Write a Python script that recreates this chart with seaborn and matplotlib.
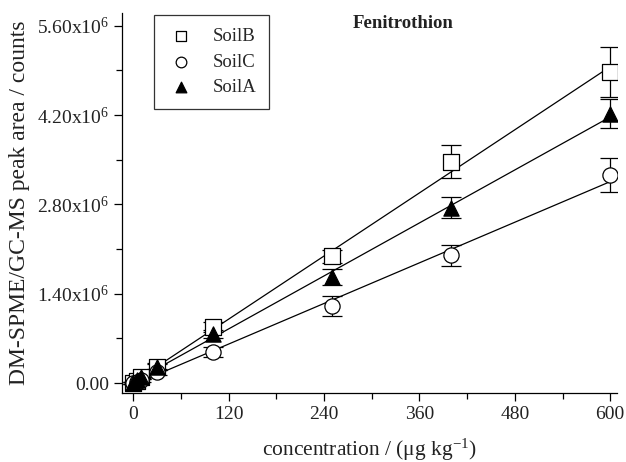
import numpy as np
import pandas as pd
import matplotlib
matplotlib.use("Agg")
import matplotlib.pyplot as plt
import seaborn as sns
from matplotlib.ticker import MultipleLocator, FixedLocator

conc = [0, 5, 10, 30, 100, 250, 400, 600]
soilB = [0.0, 0.04e6, 0.09e6, 0.25e6, 0.88e6, 1.99e6, 3.47e6, 4.88e6]
soilB_err = [0.02e6, 0.03e6, 0.03e6, 0.05e6, 0.08e6, 0.10e6, 0.26e6, 0.39e6]
soilC = [0.0, 0.02e6, 0.05e6, 0.17e6, 0.49e6, 1.21e6, 2.00e6, 3.26e6]
soilC_err = [0.02e6, 0.03e6, 0.03e6, 0.05e6, 0.08e6, 0.16e6, 0.17e6, 0.27e6]
soilA = [0.0, 0.05e6, 0.09e6, 0.26e6, 0.77e6, 1.66e6, 2.75e6, 4.22e6]
soilA_err = [0.02e6, 0.03e6, 0.03e6, 0.05e6, 0.07e6, 0.13e6, 0.17e6, 0.23e6]
series_names = ["SoilB", "SoilC", "SoilA"]
x_ticks = [0, 120, 240, 360, 480, 600]
y_ticks = [0.0, 1.40e6, 2.80e6, 4.20e6, 5.60e6]
y_tick_labels = ["0.00", r"1.40x10$^{6}$", r"2.80x10$^{6}$", r"4.20x10$^{6}$", r"5.60x10$^{6}$"]

sns.set_style("ticks")
plt.rcParams["font.family"] = ["Liberation Serif", "DejaVu Serif"]
plt.rcParams["mathtext.fontset"] = "custom"
plt.rcParams["mathtext.rm"] = "Liberation Serif"
plt.rcParams["mathtext.it"] = "Liberation Serif:italic"
plt.rcParams["mathtext.bf"] = "Liberation Serif:bold"

fig = plt.figure(figsize=(6.26, 4.62), dpi=100)
ax = fig.add_axes([0.195, 0.149, 0.791, 0.823])

df = pd.DataFrame({"conc": conc * 3,
                   "value": soilB + soilC + soilA,
                   "err": soilB_err + soilC_err + soilA_err,
                   "soil": sum([[n] * len(conc) for n in series_names], [])})

styles = {"SoilB": dict(marker="s", fc="white"),
          "SoilC": dict(marker="o", fc="white"),
          "SoilA": dict(marker="^", fc="black")}

handles = []
for name in series_names:
    d = df[df.soil == name]
    sns.regplot(data=d, x="conc", y="value", ax=ax, scatter=False, ci=None,
                truncate=True, line_kws=dict(color="black", lw=0.9, zorder=2))
    ax.errorbar(d["conc"], d["value"], yerr=d["err"], fmt="none", ecolor="black",
                elinewidth=0.9, capsize=7.5, capthick=0.9, zorder=3)
    sc = ax.scatter(d["conc"], d["value"], marker=styles[name]["marker"],
                    facecolor=styles[name]["fc"], edgecolor="black", linewidth=0.9,
                    s=120, zorder=4, label=name)
    handles.append(sc)

ax.set_xlim(-13.9, 608.8)
ax.set_ylim(-0.157e6, 5.80e6)
ax.set_xticks(x_ticks)
ax.xaxis.set_minor_locator(MultipleLocator(60))
ax.set_yticks(y_ticks)
ax.set_yticklabels(y_tick_labels)
ax.yaxis.set_minor_locator(MultipleLocator(0.7e6))
ax.tick_params(axis="both", which="major", direction="out", length=6, width=0.9,
               labelsize=14, color="black", labelcolor="#222222")
ax.tick_params(axis="both", which="minor", direction="out", length=4, width=0.9, color="black")
for s in ["top", "right"]:
    ax.spines[s].set_visible(False)
for s in ["left", "bottom"]:
    ax.spines[s].set_linewidth(0.9)
    ax.spines[s].set_color("black")

ax.set_xlabel(r"concentration / ($\mathrm{\mu}$g kg$^{\mathrm{-1}}$)", fontsize=15.5, labelpad=10, color="#222222")
ax.set_ylabel("DM-SPME/GC-MS peak area / counts", fontsize=17, labelpad=5, color="#222222")
ax.text(0.568, 0.995, "Fenitrothion", transform=ax.transAxes, ha="center", va="top",
        fontsize=13.5, fontweight="bold", color="#222222")

leg = ax.legend(handles=handles, labels=series_names, loc="upper left",
                bbox_to_anchor=(0.065, 0.995), borderaxespad=0, frameon=True, fancybox=False,
                edgecolor="black", fontsize=13.5, handletextpad=1.0, handlelength=1.4,
                borderpad=0.7, labelspacing=0.45, markerscale=0.7)
leg.get_frame().set_linewidth(0.9)

fig.savefig("out.png", dpi=100)
